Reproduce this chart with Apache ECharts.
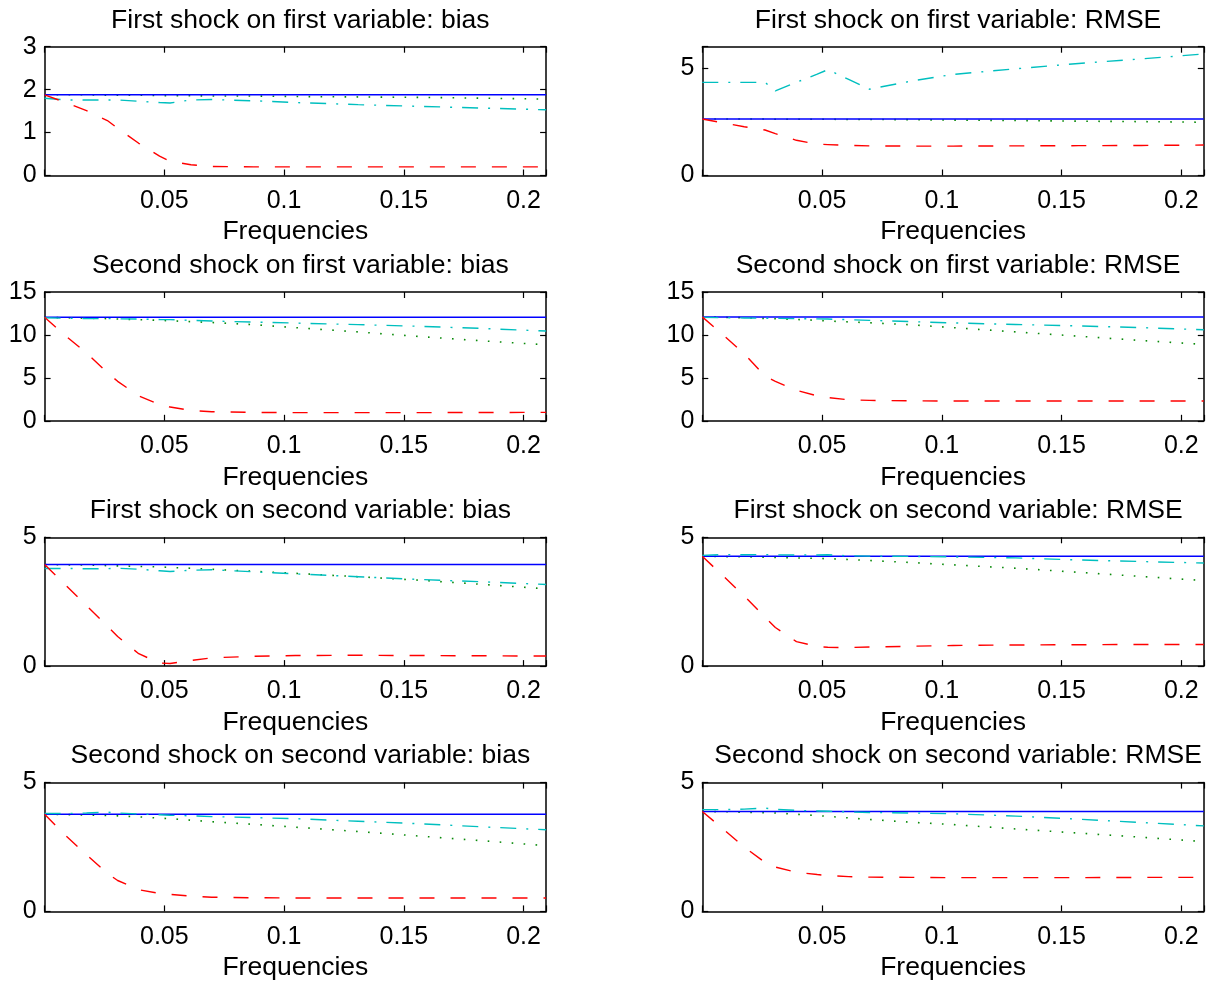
<!DOCTYPE html>
<html>
<head>
<meta charset="utf-8">
<title>Bias and RMSE by frequency</title>
<script src="https://cdn.jsdelivr.net/npm/echarts@6/dist/echarts.min.js"></script>
<style>
  html, body { margin: 0; padding: 0; background: #fff; }
  #main { width: 1216px; height: 985px; }
</style>
</head>
<body>
<div id="main"></div>
<script>
// frequencies (x axis)
var freqs = [0, 0.0087, 0.0175, 0.0262, 0.0305, 0.0393, 0.048, 0.0524, 0.0611, 0.0698, 0.0873, 0.1047, 0.1309, 0.1571, 0.1833, 0.2094];

var titles = [
  'First shock on first variable: bias', 'First shock on first variable: RMSE',
  'Second shock on first variable: bias', 'Second shock on first variable: RMSE',
  'First shock on second variable: bias', 'First shock on second variable: RMSE',
  'Second shock on second variable: bias', 'Second shock on second variable: RMSE'
];
var yMax = [3, 6, 15, 15, 5, 5, 5, 5];
var yStep = [1, 5, 5, 5, 5, 5, 5, 5];

// solid blue reference level
var blueLevel = [1.88, 2.63, 12.05, 12.1, 3.94, 4.26, 3.77, 3.88];

// red dashed
var red1 = [1.88, 1.70, 1.51, 1.28, 1.10, 0.75, 0.45, 0.33, 0.25, 0.21, 0.20, 0.20, 0.20, 0.20, 0.20, 0.20];
var red2 = [2.63, 2.45, 2.27, 2.12, 1.95, 1.64, 1.46, 1.44, 1.40, 1.38, 1.37, 1.37, 1.38, 1.39, 1.40, 1.42];
var red3 = [12.05, 9.9, 7.9, 5.6, 4.6, 2.9, 1.9, 1.6, 1.2, 1.05, 0.98, 0.95, 0.95, 0.95, 0.97, 0.98];
var red4 = [12.1, 10.0, 7.8, 5.2, 4.6, 3.55, 2.9, 2.7, 2.45, 2.38, 2.33, 2.3, 2.3, 2.3, 2.3, 2.3];
var red5 = [3.94, 3.15, 2.35, 1.55, 1.15, 0.48, 0.12, 0.10, 0.22, 0.32, 0.38, 0.41, 0.42, 0.41, 0.40, 0.39];
var red6 = [4.26, 3.5, 2.72, 1.9, 1.5, 0.95, 0.76, 0.73, 0.72, 0.74, 0.77, 0.80, 0.82, 0.83, 0.84, 0.84];
var red7 = [3.77, 2.95, 2.2, 1.48, 1.2, 0.84, 0.70, 0.66, 0.59, 0.55, 0.53, 0.52, 0.52, 0.52, 0.52, 0.52];
var red8 = [3.88, 3.2, 2.5, 1.9, 1.72, 1.52, 1.43, 1.39, 1.35, 1.33, 1.32, 1.31, 1.31, 1.31, 1.32, 1.32];

// cyan dash-dot
var cyan1 = [1.80, 1.76, 1.76, 1.76, 1.76, 1.73, 1.70, 1.69, 1.76, 1.77, 1.74, 1.70, 1.65, 1.61, 1.57, 1.53];
var cyan2 = [4.34, 4.34, 4.34, 4.34, 3.94, 4.34, 4.72, 4.93, 4.48, 4.02, 4.40, 4.71, 4.97, 5.22, 5.43, 5.66];
var cyan3 = [12.0, 11.95, 11.9, 11.9, 11.88, 11.85, 11.8, 11.78, 11.7, 11.62, 11.5, 11.38, 11.2, 11.0, 10.75, 10.45];
var cyan4 = [12.05, 12.0, 11.98, 11.95, 11.93, 11.9, 11.87, 11.85, 11.78, 11.7, 11.55, 11.4, 11.22, 11.05, 10.85, 10.6];
var cyan5 = [3.79, 3.79, 3.78, 3.78, 3.80, 3.76, 3.70, 3.67, 3.72, 3.74, 3.66, 3.58, 3.47, 3.36, 3.27, 3.17];
var cyan6 = [4.30, 4.33, 4.32, 4.33, 4.32, 4.31, 4.31, 4.32, 4.28, 4.27, 4.26, 4.24, 4.20, 4.12, 4.06, 4.00];
var cyan7 = [3.80, 3.80, 3.82, 3.85, 3.82, 3.78, 3.75, 3.73, 3.71, 3.68, 3.64, 3.60, 3.50, 3.40, 3.28, 3.17];
var cyan8 = [3.95, 3.95, 3.97, 4.01, 3.96, 3.92, 3.90, 3.89, 3.86, 3.84, 3.82, 3.79, 3.70, 3.58, 3.45, 3.32];

// green dotted
var green1 = [1.88, 1.88, 1.88, 1.87, 1.87, 1.87, 1.86, 1.86, 1.86, 1.85, 1.85, 1.84, 1.83, 1.82, 1.80, 1.78];
var green2 = [2.63, 2.63, 2.63, 2.63, 2.62, 2.62, 2.62, 2.62, 2.61, 2.61, 2.60, 2.58, 2.56, 2.53, 2.51, 2.48];
var green3 = [12.05, 12.0, 11.95, 11.9, 11.85, 11.78, 11.7, 11.65, 11.55, 11.45, 11.2, 10.85, 10.35, 9.8, 9.3, 8.85];
var green4 = [12.1, 12.05, 12.0, 11.92, 11.88, 11.8, 11.7, 11.62, 11.52, 11.42, 11.18, 10.85, 10.35, 9.85, 9.35, 8.9];
var green5 = [3.94, 3.93, 3.92, 3.90, 3.89, 3.87, 3.85, 3.83, 3.80, 3.76, 3.68, 3.60, 3.47, 3.33, 3.17, 3.00];
var green6 = [4.26, 4.25, 4.24, 4.23, 4.22, 4.20, 4.18, 4.17, 4.14, 4.10, 4.02, 3.93, 3.80, 3.64, 3.48, 3.32];
var green7 = [3.77, 3.76, 3.74, 3.72, 3.71, 3.67, 3.62, 3.60, 3.54, 3.48, 3.38, 3.27, 3.10, 2.92, 2.74, 2.55];
var green8 = [3.88, 3.87, 3.85, 3.83, 3.82, 3.77, 3.72, 3.69, 3.63, 3.57, 3.46, 3.37, 3.20, 3.04, 2.88, 2.71];

var redLines = [red1, red2, red3, red4, red5, red6, red7, red8];
var cyanLines = [cyan1, cyan2, cyan3, cyan4, cyan5, cyan6, cyan7, cyan8];
var greenLines = [green1, green2, green3, green4, green5, green6, green7, green8];

var FONT = 'Liberation Sans, Arial, Helvetica, sans-serif';
var colLeft = [44.6, 702.3];
var rowTop = [46.7, 292, 537.3, 782.6];
var plotW = 501.5, plotH = 128.8;

function pairs(vals) {
  return freqs.map(function (f, k) { return [f, vals[k]]; });
}

function boxLine() {
  return { show: true, onZero: false, lineStyle: { color: '#000', width: 1.5 } };
}
function boxTick() {
  return { show: true, inside: true, length: 6, lineStyle: { color: '#000', width: 1.2 } };
}

var xLabelText = { '0.05': '0.05', '0.1': '0.1', '0.15': '0.15', '0.2': '0.2' };

var chart = echarts.init(document.getElementById('main'));
var grids = [], xAxes = [], yAxes = [], series = [], titleList = [];

for (var i = 0; i < 8; i++) {
  var row = Math.floor(i / 2), col = i % 2;
  var gx = colLeft[col], gy = rowTop[row];
  grids.push({ left: gx, top: gy, width: plotW, height: plotH });

  titleList.push({
    text: titles[i],
    left: gx + plotW / 2,
    top: gy - 45,
    textAlign: 'center',
    textStyle: { fontFamily: FONT, fontSize: 26.5, fontWeight: 'normal', color: '#000' }
  });

  xAxes.push({
    type: 'value', gridIndex: i, position: 'bottom', min: 0, max: 0.2094, interval: 0.05,
    name: 'Frequencies', nameLocation: 'middle', nameGap: 43,
    nameTextStyle: { fontFamily: FONT, fontSize: 26.5, color: '#000' },
    axisLine: boxLine(), axisTick: boxTick(), splitLine: { show: false },
    axisLabel: {
      margin: 13, fontFamily: FONT, fontSize: 25, color: '#000',
      formatter: function (v) {
        var key = String(Math.round(v * 100) / 100);
        return (v > 0.01 && v < 0.205) ? (xLabelText[key] || '') : '';
      }
    }
  });
  xAxes.push({
    type: 'value', gridIndex: i, position: 'top', min: 0, max: 0.2094, interval: 0.05,
    axisLine: boxLine(), axisTick: boxTick(), axisLabel: { show: false }, splitLine: { show: false }
  });
  yAxes.push({
    type: 'value', gridIndex: i, position: 'left', min: 0, max: yMax[i], interval: yStep[i],
    axisLine: boxLine(), axisTick: boxTick(), splitLine: { show: false },
    axisLabel: {
      margin: 8, fontFamily: FONT, fontSize: 25, color: '#000',
      formatter: function (v) { return (v % 5 === 0 || v <= 3) ? String(v) : ''; }
    }
  });
  yAxes.push({
    type: 'value', gridIndex: i, position: 'right', min: 0, max: yMax[i], interval: yStep[i],
    axisLine: boxLine(), axisTick: boxTick(), axisLabel: { show: false }, splitLine: { show: false }
  });

  var xi = 2 * i, yi = 2 * i;
  var flat = freqs.map(function () { return blueLevel[i]; });

  series.push({
    type: 'line', xAxisIndex: xi, yAxisIndex: yi, data: pairs(greenLines[i]),
    symbol: 'none', silent: true,
    lineStyle: { color: '#0a8a0a', width: 1.6, type: [1.6, 10.4] }
  });
  series.push({
    type: 'line', xAxisIndex: xi, yAxisIndex: yi, data: pairs(flat),
    symbol: 'none', silent: true,
    lineStyle: { color: '#0000ff', width: 1.5 }
  });
  series.push({
    type: 'line', xAxisIndex: xi, yAxisIndex: yi, data: pairs(cyanLines[i]),
    symbol: 'none', silent: true,
    lineStyle: { color: '#00bfbf', width: 1.4, type: [16, 10, 2, 10] }
  });
  series.push({
    type: 'line', xAxisIndex: xi, yAxisIndex: yi, data: pairs(redLines[i]),
    symbol: 'none', silent: true,
    lineStyle: { color: '#ff0000', width: 1.4, type: [15, 16] }
  });
}

chart.setOption({
  backgroundColor: '#fff',
  animation: false,
  title: titleList,
  grid: grids,
  xAxis: xAxes,
  yAxis: yAxes,
  series: series
});
</script>
</body>
</html>
